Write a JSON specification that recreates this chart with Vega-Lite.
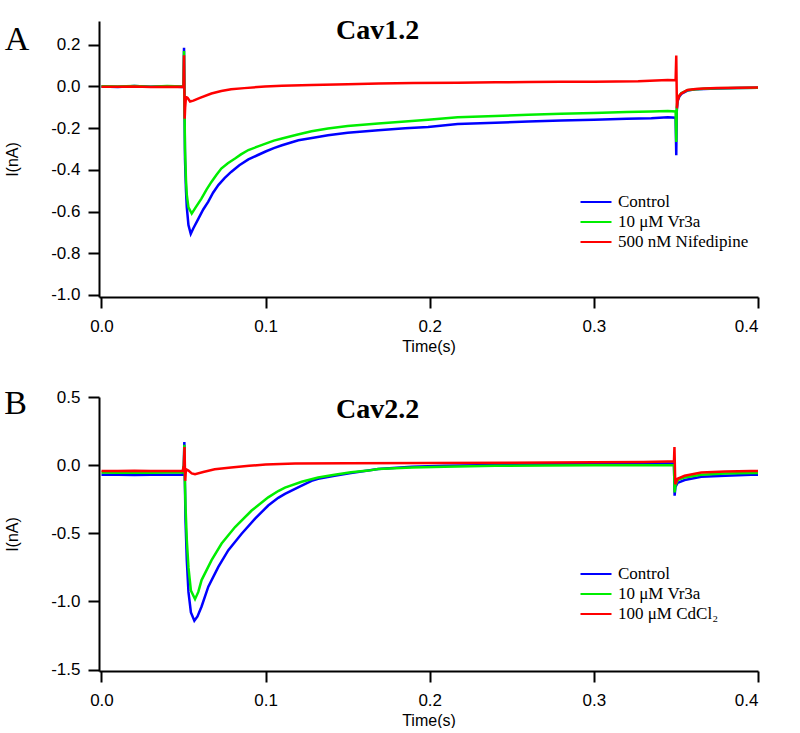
{
  "$schema": "https://vega.github.io/schema/vega-lite/v6.json",
  "background": "white",
  "padding": {"left": 4, "top": 16, "right": 0, "bottom": 0},
  "bounds": "flush",
  "spacing": 100,
  "config": {
    "view": {"stroke": null},
    "axis": {"grid": false, "domainColor": "black", "tickColor": "black", "domainWidth": 2, "tickWidth": 2, "tickSize": 11,
      "labelFont": "Liberation Sans", "labelFontSize": 17, "labelColor": "black",
      "titleFont": "Liberation Sans", "titleFontSize": 16, "titleFontWeight": "normal", "titleColor": "black"},
    "axisX": {"labelPadding": 10, "titlePadding": 4},
    "axisY": {"labelPadding": 8, "titlePadding": 30},
    "legend": {"orient": "none", "title": null, "symbolType": "M-1.55,0H1.55", "symbolSize": 400, "symbolStrokeWidth": 2,
      "labelFont": "Liberation Serif", "labelFontSize": 17, "labelColor": "black", "rowPadding": 1, "labelOffset": 11, "padding": 0}
  },
  "resolve": {"scale": {"color": "independent"}, "legend": {"color": "independent"}},
  "datasets": {
    "a": [
      {"s":"Control","t":0,"i":0.0},{"s":"Control","t":0.01,"i":-0.003},{"s":"Control","t":0.02,"i":0.002},{"s":"Control","t":0.03,"i":-0.002},{"s":"Control","t":0.04,"i":0.001},{"s":"Control","t":0.0495,"i":-0.002},{"s":"Control","t":0.05,"i":0.0},{"s":"Control","t":0.0503,"i":0.186},{"s":"Control","t":0.0506,"i":-0.1},{"s":"Control","t":0.0509,"i":-0.35},{"s":"Control","t":0.0515,"i":-0.5},{"s":"Control","t":0.052,"i":-0.58},{"s":"Control","t":0.053,"i":-0.665},{"s":"Control","t":0.0544,"i":-0.707},{"s":"Control","t":0.056,"i":-0.68},{"s":"Control","t":0.059,"i":-0.635},{"s":"Control","t":0.062,"i":-0.59},{"s":"Control","t":0.065,"i":-0.554},{"s":"Control","t":0.068,"i":-0.51},{"s":"Control","t":0.0712,"i":-0.473},{"s":"Control","t":0.075,"i":-0.44},{"s":"Control","t":0.079,"i":-0.41},{"s":"Control","t":0.084,"i":-0.378},{"s":"Control","t":0.0895,"i":-0.35},{"s":"Control","t":0.095,"i":-0.33},{"s":"Control","t":0.1,"i":-0.312},{"s":"Control","t":0.105,"i":-0.296},{"s":"Control","t":0.11,"i":-0.282},{"s":"Control","t":0.115,"i":-0.27},{"s":"Control","t":0.12,"i":-0.258},{"s":"Control","t":0.13,"i":-0.245},{"s":"Control","t":0.138,"i":-0.234},{"s":"Control","t":0.15,"i":-0.222},{"s":"Control","t":0.1686,"i":-0.21},{"s":"Control","t":0.185,"i":-0.2},{"s":"Control","t":0.199,"i":-0.194},{"s":"Control","t":0.217,"i":-0.18},{"s":"Control","t":0.24,"i":-0.174},{"s":"Control","t":0.26,"i":-0.168},{"s":"Control","t":0.28,"i":-0.163},{"s":"Control","t":0.3,"i":-0.16},{"s":"Control","t":0.32,"i":-0.155},{"s":"Control","t":0.335,"i":-0.152},{"s":"Control","t":0.345,"i":-0.148},{"s":"Control","t":0.3498,"i":-0.15},{"s":"Control","t":0.3502,"i":-0.33},{"s":"Control","t":0.3505,"i":-0.12},{"s":"Control","t":0.351,"i":-0.07},{"s":"Control","t":0.352,"i":-0.05},{"s":"Control","t":0.3532,"i":-0.036},{"s":"Control","t":0.357,"i":-0.02},{"s":"Control","t":0.362,"i":-0.014},{"s":"Control","t":0.367,"i":-0.012},{"s":"Control","t":0.375,"i":-0.01},{"s":"Control","t":0.388,"i":-0.008},{"s":"Control","t":0.4,"i":-0.006},
      {"s":"10 μM Vr3a","t":0,"i":0.001},{"s":"10 μM Vr3a","t":0.01,"i":0.0},{"s":"10 μM Vr3a","t":0.02,"i":0.002},{"s":"10 μM Vr3a","t":0.03,"i":-0.001},{"s":"10 μM Vr3a","t":0.04,"i":0.002},{"s":"10 μM Vr3a","t":0.0495,"i":0.0},{"s":"10 μM Vr3a","t":0.05,"i":0.0},{"s":"10 μM Vr3a","t":0.0503,"i":0.17},{"s":"10 μM Vr3a","t":0.0506,"i":-0.1},{"s":"10 μM Vr3a","t":0.0509,"i":-0.3},{"s":"10 μM Vr3a","t":0.0515,"i":-0.45},{"s":"10 μM Vr3a","t":0.052,"i":-0.52},{"s":"10 μM Vr3a","t":0.053,"i":-0.58},{"s":"10 μM Vr3a","t":0.055,"i":-0.61},{"s":"10 μM Vr3a","t":0.057,"i":-0.585},{"s":"10 μM Vr3a","t":0.0609,"i":-0.538},{"s":"10 μM Vr3a","t":0.064,"i":-0.495},{"s":"10 μM Vr3a","t":0.067,"i":-0.458},{"s":"10 μM Vr3a","t":0.07,"i":-0.425},{"s":"10 μM Vr3a","t":0.073,"i":-0.394},{"s":"10 μM Vr3a","t":0.077,"i":-0.368},{"s":"10 μM Vr3a","t":0.0814,"i":-0.346},{"s":"10 μM Vr3a","t":0.085,"i":-0.326},{"s":"10 μM Vr3a","t":0.0895,"i":-0.305},{"s":"10 μM Vr3a","t":0.095,"i":-0.289},{"s":"10 μM Vr3a","t":0.1,"i":-0.274},{"s":"10 μM Vr3a","t":0.105,"i":-0.26},{"s":"10 μM Vr3a","t":0.11,"i":-0.25},{"s":"10 μM Vr3a","t":0.119,"i":-0.232},{"s":"10 μM Vr3a","t":0.128,"i":-0.215},{"s":"10 μM Vr3a","t":0.138,"i":-0.202},{"s":"10 μM Vr3a","t":0.15,"i":-0.19},{"s":"10 μM Vr3a","t":0.1686,"i":-0.178},{"s":"10 μM Vr3a","t":0.185,"i":-0.168},{"s":"10 μM Vr3a","t":0.199,"i":-0.16},{"s":"10 μM Vr3a","t":0.217,"i":-0.148},{"s":"10 μM Vr3a","t":0.24,"i":-0.142},{"s":"10 μM Vr3a","t":0.26,"i":-0.136},{"s":"10 μM Vr3a","t":0.28,"i":-0.131},{"s":"10 μM Vr3a","t":0.3,"i":-0.127},{"s":"10 μM Vr3a","t":0.32,"i":-0.123},{"s":"10 μM Vr3a","t":0.335,"i":-0.12},{"s":"10 μM Vr3a","t":0.345,"i":-0.118},{"s":"10 μM Vr3a","t":0.3498,"i":-0.12},{"s":"10 μM Vr3a","t":0.3502,"i":-0.266},{"s":"10 μM Vr3a","t":0.3505,"i":-0.1},{"s":"10 μM Vr3a","t":0.351,"i":-0.06},{"s":"10 μM Vr3a","t":0.352,"i":-0.045},{"s":"10 μM Vr3a","t":0.3532,"i":-0.032},{"s":"10 μM Vr3a","t":0.357,"i":-0.018},{"s":"10 μM Vr3a","t":0.362,"i":-0.013},{"s":"10 μM Vr3a","t":0.367,"i":-0.011},{"s":"10 μM Vr3a","t":0.375,"i":-0.009},{"s":"10 μM Vr3a","t":0.388,"i":-0.007},{"s":"10 μM Vr3a","t":0.4,"i":-0.006},
      {"s":"500 nM Nifedipine","t":0,"i":-0.001},{"s":"500 nM Nifedipine","t":0.01,"i":-0.002},{"s":"500 nM Nifedipine","t":0.02,"i":0.0},{"s":"500 nM Nifedipine","t":0.03,"i":-0.003},{"s":"500 nM Nifedipine","t":0.04,"i":-0.001},{"s":"500 nM Nifedipine","t":0.0495,"i":-0.002},{"s":"500 nM Nifedipine","t":0.05,"i":0.0},{"s":"500 nM Nifedipine","t":0.0503,"i":0.15},{"s":"500 nM Nifedipine","t":0.0507,"i":-0.155},{"s":"500 nM Nifedipine","t":0.051,"i":-0.1},{"s":"500 nM Nifedipine","t":0.0515,"i":-0.05},{"s":"500 nM Nifedipine","t":0.0525,"i":-0.055},{"s":"500 nM Nifedipine","t":0.054,"i":-0.072},{"s":"500 nM Nifedipine","t":0.056,"i":-0.068},{"s":"500 nM Nifedipine","t":0.06,"i":-0.055},{"s":"500 nM Nifedipine","t":0.067,"i":-0.034},{"s":"500 nM Nifedipine","t":0.073,"i":-0.022},{"s":"500 nM Nifedipine","t":0.079,"i":-0.013},{"s":"500 nM Nifedipine","t":0.087,"i":-0.008},{"s":"500 nM Nifedipine","t":0.0996,"i":0.0},{"s":"500 nM Nifedipine","t":0.11,"i":0.003},{"s":"500 nM Nifedipine","t":0.128,"i":0.007},{"s":"500 nM Nifedipine","t":0.15,"i":0.01},{"s":"500 nM Nifedipine","t":0.169,"i":0.014},{"s":"500 nM Nifedipine","t":0.19,"i":0.016},{"s":"500 nM Nifedipine","t":0.217,"i":0.018},{"s":"500 nM Nifedipine","t":0.24,"i":0.02},{"s":"500 nM Nifedipine","t":0.26,"i":0.021},{"s":"500 nM Nifedipine","t":0.28,"i":0.022},{"s":"500 nM Nifedipine","t":0.3,"i":0.023},{"s":"500 nM Nifedipine","t":0.327,"i":0.025},{"s":"500 nM Nifedipine","t":0.345,"i":0.031},{"s":"500 nM Nifedipine","t":0.3498,"i":0.03},{"s":"500 nM Nifedipine","t":0.3502,"i":0.148},{"s":"500 nM Nifedipine","t":0.3506,"i":-0.105},{"s":"500 nM Nifedipine","t":0.351,"i":-0.07},{"s":"500 nM Nifedipine","t":0.352,"i":-0.045},{"s":"500 nM Nifedipine","t":0.3532,"i":-0.034},{"s":"500 nM Nifedipine","t":0.357,"i":-0.017},{"s":"500 nM Nifedipine","t":0.362,"i":-0.012},{"s":"500 nM Nifedipine","t":0.367,"i":-0.01},{"s":"500 nM Nifedipine","t":0.375,"i":-0.008},{"s":"500 nM Nifedipine","t":0.388,"i":-0.006},{"s":"500 nM Nifedipine","t":0.4,"i":-0.005}
    ],
    "b": [
      {"s":"Control","t":0,"i":-0.071},{"s":"Control","t":0.01,"i":-0.07},{"s":"Control","t":0.02,"i":-0.072},{"s":"Control","t":0.03,"i":-0.07},{"s":"Control","t":0.04,"i":-0.071},{"s":"Control","t":0.0495,"i":-0.07},{"s":"Control","t":0.0502,"i":0.0},{"s":"Control","t":0.0505,"i":0.17},{"s":"Control","t":0.0508,"i":-0.1},{"s":"Control","t":0.0512,"i":-0.4},{"s":"Control","t":0.052,"i":-0.7},{"s":"Control","t":0.053,"i":-0.93},{"s":"Control","t":0.0545,"i":-1.08},{"s":"Control","t":0.0566,"i":-1.141},{"s":"Control","t":0.0585,"i":-1.11},{"s":"Control","t":0.061,"i":-1.037},{"s":"Control","t":0.0651,"i":-0.891},{"s":"Control","t":0.0712,"i":-0.746},{"s":"Control","t":0.0773,"i":-0.624},{"s":"Control","t":0.0854,"i":-0.503},{"s":"Control","t":0.0936,"i":-0.393},{"s":"Control","t":0.1016,"i":-0.296},{"s":"Control","t":0.1077,"i":-0.24},{"s":"Control","t":0.1118,"i":-0.211},{"s":"Control","t":0.122,"i":-0.151},{"s":"Control","t":0.128,"i":-0.115},{"s":"Control","t":0.132,"i":-0.1},{"s":"Control","t":0.142,"i":-0.078},{"s":"Control","t":0.152,"i":-0.058},{"s":"Control","t":0.1625,"i":-0.04},{"s":"Control","t":0.1686,"i":-0.029},{"s":"Control","t":0.189,"i":-0.012},{"s":"Control","t":0.209,"i":-0.005},{"s":"Control","t":0.24,"i":0.002},{"s":"Control","t":0.27,"i":0.006},{"s":"Control","t":0.3,"i":0.008},{"s":"Control","t":0.33,"i":0.011},{"s":"Control","t":0.345,"i":0.012},{"s":"Control","t":0.3488,"i":0.012},{"s":"Control","t":0.3492,"i":-0.224},{"s":"Control","t":0.3497,"i":-0.16},{"s":"Control","t":0.351,"i":-0.13},{"s":"Control","t":0.3553,"i":-0.109},{"s":"Control","t":0.3654,"i":-0.085},{"s":"Control","t":0.38,"i":-0.077},{"s":"Control","t":0.3958,"i":-0.071},{"s":"Control","t":0.4,"i":-0.07},
      {"s":"10 μM Vr3a","t":0,"i":-0.054},{"s":"10 μM Vr3a","t":0.01,"i":-0.055},{"s":"10 μM Vr3a","t":0.02,"i":-0.053},{"s":"10 μM Vr3a","t":0.03,"i":-0.055},{"s":"10 μM Vr3a","t":0.04,"i":-0.054},{"s":"10 μM Vr3a","t":0.0495,"i":-0.054},{"s":"10 μM Vr3a","t":0.0502,"i":0.0},{"s":"10 μM Vr3a","t":0.0505,"i":0.15},{"s":"10 μM Vr3a","t":0.0508,"i":-0.1},{"s":"10 μM Vr3a","t":0.0512,"i":-0.3},{"s":"10 μM Vr3a","t":0.052,"i":-0.55},{"s":"10 μM Vr3a","t":0.053,"i":-0.75},{"s":"10 μM Vr3a","t":0.0545,"i":-0.92},{"s":"10 μM Vr3a","t":0.057,"i":-0.983},{"s":"10 μM Vr3a","t":0.059,"i":-0.93},{"s":"10 μM Vr3a","t":0.061,"i":-0.843},{"s":"10 μM Vr3a","t":0.0671,"i":-0.697},{"s":"10 μM Vr3a","t":0.0732,"i":-0.575},{"s":"10 μM Vr3a","t":0.0814,"i":-0.454},{"s":"10 μM Vr3a","t":0.0915,"i":-0.333},{"s":"10 μM Vr3a","t":0.1016,"i":-0.236},{"s":"10 μM Vr3a","t":0.1077,"i":-0.19},{"s":"10 μM Vr3a","t":0.1118,"i":-0.165},{"s":"10 μM Vr3a","t":0.122,"i":-0.122},{"s":"10 μM Vr3a","t":0.132,"i":-0.09},{"s":"10 μM Vr3a","t":0.142,"i":-0.07},{"s":"10 μM Vr3a","t":0.152,"i":-0.052},{"s":"10 μM Vr3a","t":0.1625,"i":-0.04},{"s":"10 μM Vr3a","t":0.1686,"i":-0.029},{"s":"10 μM Vr3a","t":0.189,"i":-0.017},{"s":"10 μM Vr3a","t":0.209,"i":-0.012},{"s":"10 μM Vr3a","t":0.24,"i":-0.005},{"s":"10 μM Vr3a","t":0.27,"i":-0.002},{"s":"10 μM Vr3a","t":0.3,"i":0.0},{"s":"10 μM Vr3a","t":0.33,"i":0.0},{"s":"10 μM Vr3a","t":0.345,"i":0.0},{"s":"10 μM Vr3a","t":0.3488,"i":0.0},{"s":"10 μM Vr3a","t":0.3492,"i":-0.2},{"s":"10 μM Vr3a","t":0.3497,"i":-0.15},{"s":"10 μM Vr3a","t":0.351,"i":-0.11},{"s":"10 μM Vr3a","t":0.3553,"i":-0.09},{"s":"10 μM Vr3a","t":0.3654,"i":-0.07},{"s":"10 μM Vr3a","t":0.38,"i":-0.062},{"s":"10 μM Vr3a","t":0.3958,"i":-0.058},{"s":"10 μM Vr3a","t":0.4,"i":-0.057},
      {"s":"100 μM CdCl₂","t":0,"i":-0.042},{"s":"100 μM CdCl₂","t":0.01,"i":-0.043},{"s":"100 μM CdCl₂","t":0.02,"i":-0.041},{"s":"100 μM CdCl₂","t":0.03,"i":-0.043},{"s":"100 μM CdCl₂","t":0.04,"i":-0.042},{"s":"100 μM CdCl₂","t":0.0495,"i":-0.042},{"s":"100 μM CdCl₂","t":0.0502,"i":0.0},{"s":"100 μM CdCl₂","t":0.0506,"i":0.133},{"s":"100 μM CdCl₂","t":0.051,"i":-0.115},{"s":"100 μM CdCl₂","t":0.0515,"i":-0.03},{"s":"100 μM CdCl₂","t":0.053,"i":-0.04},{"s":"100 μM CdCl₂","t":0.055,"i":-0.06},{"s":"100 μM CdCl₂","t":0.057,"i":-0.066},{"s":"100 μM CdCl₂","t":0.062,"i":-0.05},{"s":"100 μM CdCl₂","t":0.069,"i":-0.03},{"s":"100 μM CdCl₂","t":0.079,"i":-0.017},{"s":"100 μM CdCl₂","t":0.09,"i":-0.005},{"s":"100 μM CdCl₂","t":0.1,"i":0.004},{"s":"100 μM CdCl₂","t":0.118,"i":0.012},{"s":"100 μM CdCl₂","t":0.15,"i":0.014},{"s":"100 μM CdCl₂","t":0.2,"i":0.016},{"s":"100 μM CdCl₂","t":0.25,"i":0.018},{"s":"100 μM CdCl₂","t":0.3,"i":0.022},{"s":"100 μM CdCl₂","t":0.33,"i":0.024},{"s":"100 μM CdCl₂","t":0.345,"i":0.026},{"s":"100 μM CdCl₂","t":0.3488,"i":0.026},{"s":"100 μM CdCl₂","t":0.3491,"i":0.133},{"s":"100 μM CdCl₂","t":0.3496,"i":-0.14},{"s":"100 μM CdCl₂","t":0.351,"i":-0.1},{"s":"100 μM CdCl₂","t":0.3553,"i":-0.078},{"s":"100 μM CdCl₂","t":0.3654,"i":-0.054},{"s":"100 μM CdCl₂","t":0.38,"i":-0.047},{"s":"100 μM CdCl₂","t":0.3958,"i":-0.042},{"s":"100 μM CdCl₂","t":0.4,"i":-0.042}
    ],
    "la": [{"label": "Cav1.2", "t": 0.1683, "i": 0.228}],
    "lb": [{"label": "Cav2.2", "t": 0.1683, "i": 0.346}],
    "pa": [{"label": "A", "t": -0.0514, "i": 0.176}],
    "pb": [{"label": "B", "t": -0.0523, "i": 0.376}]
  },
  "vconcat": [
    {
      "width": 659,
      "height": 276,
      "encoding": {
        "x": {"field": "t", "type": "quantitative", "title": "Time(s)",
          "scale": {"domain": [-0.0015, 0.4], "nice": false, "zero": false},
          "axis": {"values": [0, 0.1, 0.2, 0.3, 0.4], "format": ".1f"}},
        "y": {"field": "i", "type": "quantitative", "title": "I(nA)",
          "scale": {"domain": [-1.01, 0.314], "nice": false, "zero": false},
          "axis": {"values": [-1, -0.8, -0.6, -0.4, -0.2, 0, 0.2], "labelExpr": "(datum.value < 0 ? '-' : '') + format(abs(datum.value), '.1f')"}}
      },
      "layer": [
        {"data": {"name": "a"}, "transform": [{"filter": {"field": "s", "equal": "Control"}}], "mark": {"type": "line", "strokeWidth": 2.5},
          "encoding": {"color": {"field": "s", "type": "nominal", "scale": {"domain": ["Control", "10 μM Vr3a", "500 nM Nifedipine"], "range": ["#0000ff", "#00ee00", "#ff0000"]}, "legend": {"legendX": 486, "legendY": 170}}}},
        {"data": {"name": "a"}, "transform": [{"filter": {"field": "s", "equal": "10 μM Vr3a"}}], "mark": {"type": "line", "strokeWidth": 2.5},
          "encoding": {"color": {"field": "s", "type": "nominal", "scale": {"domain": ["Control", "10 μM Vr3a", "500 nM Nifedipine"], "range": ["#0000ff", "#00ee00", "#ff0000"]}, "legend": {"legendX": 486, "legendY": 170}}}},
        {"data": {"name": "a"}, "transform": [{"filter": {"field": "s", "equal": "500 nM Nifedipine"}}], "mark": {"type": "line", "strokeWidth": 2.5},
          "encoding": {"color": {"field": "s", "type": "nominal", "scale": {"domain": ["Control", "10 μM Vr3a", "500 nM Nifedipine"], "range": ["#0000ff", "#00ee00", "#ff0000"]}, "legend": {"legendX": 486, "legendY": 170}}}},
        {"data": {"name": "la"},
          "mark": {"type": "text", "font": "Liberation Serif", "fontWeight": "bold", "fontSize": 28, "align": "center", "baseline": "alphabetic", "fill": "black"},
          "encoding": {"text": {"field": "label", "type": "nominal"}}},
        {"data": {"name": "pa"},
          "mark": {"type": "text", "font": "Liberation Serif", "fontSize": 34, "align": "center", "baseline": "alphabetic", "fill": "black"},
          "encoding": {"text": {"field": "label", "type": "nominal"}}}
      ]
    },
    {
      "width": 659,
      "height": 274,
      "encoding": {
        "x": {"field": "t", "type": "quantitative", "title": "Time(s)",
          "scale": {"domain": [-0.0015, 0.4], "nice": false, "zero": false},
          "axis": {"values": [0, 0.1, 0.2, 0.3, 0.4], "format": ".1f"}},
        "y": {"field": "i", "type": "quantitative", "title": "I(nA)",
          "scale": {"domain": [-1.51, 0.5], "nice": false, "zero": false},
          "axis": {"values": [-1.5, -1, -0.5, 0, 0.5], "labelExpr": "(datum.value < 0 ? '-' : '') + format(abs(datum.value), '.1f')"}}
      },
      "layer": [
        {"data": {"name": "b"}, "transform": [{"filter": {"field": "s", "equal": "Control"}}], "mark": {"type": "line", "strokeWidth": 2.5},
          "encoding": {"color": {"field": "s", "type": "nominal", "scale": {"domain": ["Control", "10 μM Vr3a", "100 μM CdCl₂"], "range": ["#0000ff", "#00ee00", "#ff0000"]}, "legend": {"legendX": 486, "legendY": 166}}}},
        {"data": {"name": "b"}, "transform": [{"filter": {"field": "s", "equal": "10 μM Vr3a"}}], "mark": {"type": "line", "strokeWidth": 2.5},
          "encoding": {"color": {"field": "s", "type": "nominal", "scale": {"domain": ["Control", "10 μM Vr3a", "100 μM CdCl₂"], "range": ["#0000ff", "#00ee00", "#ff0000"]}, "legend": {"legendX": 486, "legendY": 166}}}},
        {"data": {"name": "b"}, "transform": [{"filter": {"field": "s", "equal": "100 μM CdCl₂"}}], "mark": {"type": "line", "strokeWidth": 2.5},
          "encoding": {"color": {"field": "s", "type": "nominal", "scale": {"domain": ["Control", "10 μM Vr3a", "100 μM CdCl₂"], "range": ["#0000ff", "#00ee00", "#ff0000"]}, "legend": {"legendX": 486, "legendY": 166}}}},
        {"data": {"name": "lb"},
          "mark": {"type": "text", "font": "Liberation Serif", "fontWeight": "bold", "fontSize": 28, "align": "center", "baseline": "alphabetic", "fill": "black"},
          "encoding": {"text": {"field": "label", "type": "nominal"}}},
        {"data": {"name": "pb"},
          "mark": {"type": "text", "font": "Liberation Serif", "fontSize": 34, "align": "center", "baseline": "alphabetic", "fill": "black"},
          "encoding": {"text": {"field": "label", "type": "nominal"}}}
      ]
    }
  ]
}
